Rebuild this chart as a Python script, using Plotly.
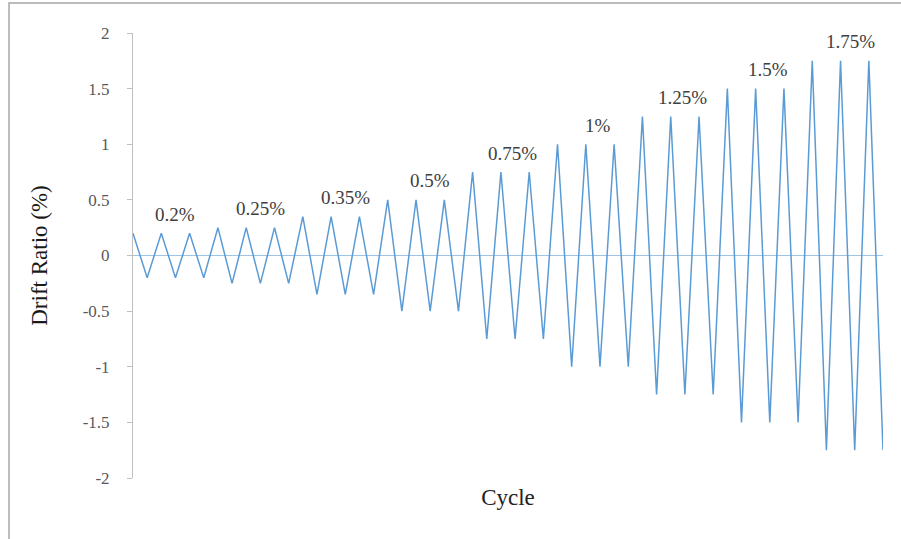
import plotly.graph_objects as go

# ---- data ----
drift_ratio = [
    0.2, -0.2, 0.2, -0.2, 0.2, -0.2,
    0.25, -0.25, 0.25, -0.25, 0.25, -0.25,
    0.35, -0.35, 0.35, -0.35, 0.35, -0.35,
    0.5, -0.5, 0.5, -0.5, 0.5, -0.5,
    0.75, -0.75, 0.75, -0.75, 0.75, -0.75,
    1.0, -1.0, 1.0, -1.0, 1.0, -1.0,
    1.25, -1.25, 1.25, -1.25, 1.25, -1.25,
    1.5, -1.5, 1.5, -1.5, 1.5, -1.5,
    1.75, -1.75, 1.75, -1.75, 1.75, -1.75,
]
levels = [0.2, 0.25, 0.35, 0.5, 0.75, 1.0, 1.25, 1.5, 1.75]
level_labels = ["0.2%", "0.25%", "0.35%", "0.5%", "0.75%", "1%", "1.25%", "1.5%", "1.75%"]
points_per_level = 6
y_tick_vals = [-2, -1.5, -1, -0.5, 0, 0.5, 1, 1.5, 2]
y_tick_text = ["-2", "-1.5", "-1", "-0.5", "0", "0.5", "1", "1.5", "2"]

x_index = list(range(len(drift_ratio)))

SERIF = "Liberation Serif"

fig = go.Figure()
fig.add_trace(go.Scatter(
    x=x_index, y=drift_ratio, mode="lines",
    line=dict(color="#5B9BD5", width=1.5),
    showlegend=False, hoverinfo="skip",
))

for i, (lv, lab) in enumerate(zip(levels, level_labels)):
    fig.add_annotation(
        x=i * points_per_level + points_per_level / 2 - 0.15 * (i // 4), y=lv + 0.17,
        text=lab, showarrow=False, xanchor="center", yanchor="middle",
        font=dict(family=SERIF, size=19, color="#404040"),
    )

fig.update_layout(
    width=901, height=539,
    margin=dict(l=133, r=18, t=33, b=61),
    paper_bgcolor="white", plot_bgcolor="white",
    font=dict(family=SERIF, color="#595959"),
    xaxis=dict(
        range=[0, len(drift_ratio) - 1],
        showline=False, showgrid=False, zeroline=False,
        showticklabels=False, ticks="",
        title=dict(text="Cycle", font=dict(family=SERIF, size=23, color="#222222"), standoff=10),
    ),
    yaxis=dict(
        range=[-2, 2],
        tickvals=y_tick_vals, ticktext=y_tick_text,
        showline=True, linecolor="#BFBFBF", linewidth=1,
        ticks="outside", ticklen=5, tickcolor="#BFBFBF",
        ticklabelstandoff=14,
        showgrid=False,
        zeroline=True, zerolinecolor="#9DC3E6", zerolinewidth=1.2,
        tickfont=dict(family=SERIF, size=17, color="#595959"),
        title=dict(text="Drift Ratio (%)", font=dict(family=SERIF, size=23, color="#1a1a1a"), standoff=28),
    ),
    shapes=[dict(
        type="rect", xref="paper", yref="paper",
        x0=-0.1653, x1=1.03, y0=-0.16, y1=1.0674,
        line=dict(color="#A6A6A6", width=1.5), fillcolor="rgba(0,0,0,0)", layer="below",
    )],
)

fig.write_html("out.html")
